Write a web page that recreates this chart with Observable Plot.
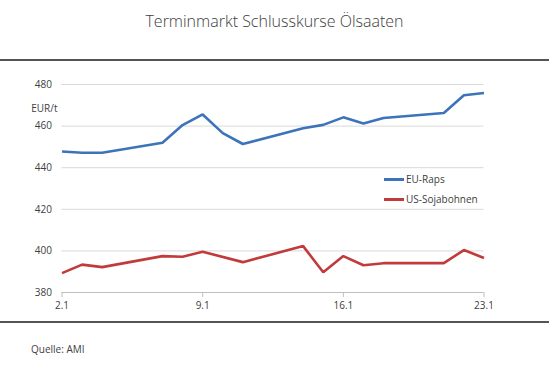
<!DOCTYPE html>
<html>
<head>
<meta charset="utf-8">
<script src="https://cdn.jsdelivr.net/npm/d3@7"></script>
<script src="https://cdn.jsdelivr.net/npm/@observablehq/plot@0.6"></script>
<style>
  html, body { margin: 0; padding: 0; background: #fff; }
  #wrap { position: relative; width: 549px; height: 374px; font-family: "Open Sans", sans-serif; color: #404040; overflow: hidden; }
  #wrap svg { position: absolute; left: 0; top: 0; }
  .title { position: absolute; left: 0; width: 549px; top: 10px; text-align: center; font-size: 16px; font-weight: 300; color: #404040; }
  .rule { position: absolute; left: 0; width: 549px; height: 2px; background: #555; }
  .caption { position: absolute; left: 31px; top: 342px; font-size: 10px; color: #404040; }
  .leg { position: absolute; left: 384px; font-size: 10px; color: #404040; line-height: 14px; }
  .leg span.sw { display: inline-block; width: 20px; height: 2.5px; vertical-align: middle; margin-right: 2px; position: relative; top: -1px; }
</style>
</head>
<body>
<div id="wrap">
  <div class="title">Terminmarkt Schlusskurse Ölsaaten</div>
  <div class="rule" style="top:59px"></div>
  <div class="rule" style="top:321px"></div>
  <div class="caption">Quelle: AMI</div>
</div>
<script>
// Trading days in January (x), values in EUR/t
const days = [2, 3, 4, 7, 8, 9, 10, 11, 14, 15, 16, 17, 18, 21, 22, 23];
const euRaps = [447.8, 447.2, 447.2, 452.0, 460.5, 465.6, 456.6, 451.4, 459.0, 460.6, 464.2, 461.2, 463.9, 466.3, 474.8, 475.9];
const soyDays = [2, 3, 4, 7, 8, 9, 11, 14, 15, 16, 17, 18, 21, 22, 23];
const usSoja = [389.3, 393.4, 392.2, 397.5, 397.2, 399.6, 394.6, 402.3, 389.7, 397.5, 393.1, 394.1, 394.1, 400.4, 396.6];
const seriesNames = ["EU-Raps", "US-Sojabohnen"];
const seriesColors = ["#3d74b9", "#c23b3b"];
const xTicks = [2, 9, 16, 23];
const xTickLabels = ["2.1", "9.1", "16.1", "23.1"];
const yTicks = [380, 400, 420, 440, 460, 480];
const unitLabel = "EUR/t";

const data = [
  ...days.map((d, i) => ({day: d, value: euRaps[i], series: seriesNames[0]})),
  ...soyDays.map((d, i) => ({day: d, value: usSoja[i], series: seriesNames[1]}))
];

const chart = Plot.plot({
  width: 549,
  height: 374,
  marginLeft: 61.5,
  marginRight: 65.5,
  marginTop: 84,
  marginBottom: 82,
  style: {fontFamily: "Open Sans, sans-serif", fontSize: "10px", color: "#404040", background: "transparent"},
  x: {type: "linear", domain: [2, 23], label: null},
  y: {domain: [380, 480], label: null},
  color: {domain: seriesNames, range: seriesColors},
  marks: [
    Plot.ruleY(yTicks.filter(t => t > 380), {stroke: "#d9d9d9", strokeWidth: 1}),
    Plot.ruleY([380], {stroke: "#bfbfbf", strokeWidth: 1}),
    Plot.axisY({ticks: yTicks, tickSize: 0, tickPadding: 10, fontSize: 10, fill: "#404040", label: null}),
    Plot.text([unitLabel], {frameAnchor: "top-left", dx: -4.5, dy: 20, textAnchor: "end", fontSize: 10, fill: "#404040"}),
    Plot.axisX({ticks: xTicks, tickFormat: (d) => xTickLabels[xTicks.indexOf(d)], tickSize: 5, tickPadding: 4, stroke: "#bfbfbf", fill: "#404040", fontSize: 10, label: null}),
    Plot.line(data, {x: "day", y: "value", z: "series", stroke: "series", strokeWidth: 2.6, strokeLinejoin: "miter", strokeLinecap: "butt"})
  ]
});
const wrap = document.getElementById("wrap");
wrap.insertBefore(chart, wrap.firstChild);

const legTops = [172, 192];
seriesNames.forEach((name, i) => {
  const el = document.createElement("div");
  el.className = "leg";
  el.style.top = legTops[i] + "px";
  el.innerHTML = `<span class="sw" style="background:${seriesColors[i]}"></span>${name}`;
  wrap.appendChild(el);
});
</script>
</body>
</html>
